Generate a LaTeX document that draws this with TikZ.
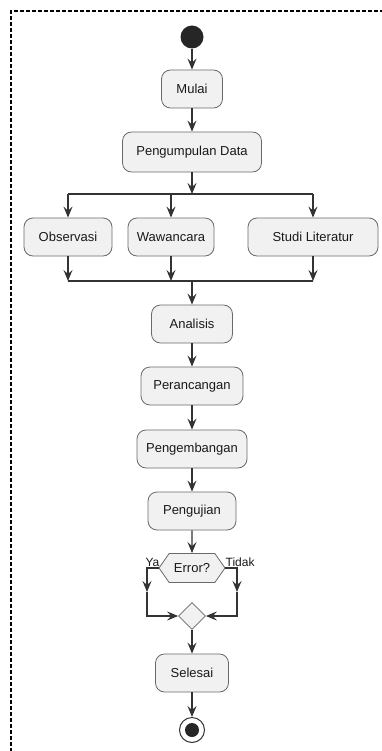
\documentclass[tikz,border=0pt]{standalone}
\usepackage{fontspec}
\setmainfont{Liberation Sans}
\usetikzlibrary{arrows.meta,shapes.geometric,shapes.symbols}
\definecolor{boxfill}{HTML}{F1F1F1}
\definecolor{boxline}{HTML}{6A6A6A}
\definecolor{arrline}{HTML}{333333}
\tikzset{
  act/.style={draw=boxline, fill=boxfill, rounded corners=9pt, line width=0.8pt,
    minimum height=38pt, inner sep=0pt, font=\fontsize{13}{15}\selectfont, text=black!90},
  arr/.style={draw=arrline, line width=1.3pt, -{Stealth[length=11pt,width=9pt,inset=4pt]}},
  ln/.style={draw=arrline, line width=1.3pt},
  lbl/.style={font=\fontsize{12}{14}\selectfont, inner sep=0pt, text=black!90}
}
\begin{document}
\begin{tikzpicture}[x=1pt,y=-1pt]
\useasboundingbox (0,0) rectangle (381,751);
\draw[black, line width=1.2pt, dash pattern=on 4pt off 2pt] (11,770) -- (11,11) -- (400,11);

\node[circle, fill=black!85, minimum size=23pt, inner sep=0pt] (start) at (192,37) {};
\node[act, minimum width=61pt] (mulai) at (192,89) {Mulai};
\node[act, minimum width=139pt, minimum height=40pt] (pd) at (192,152) {Pengumpulan Data};

\coordinate (fork) at (192,194);
\coordinate (fl) at (68,194);
\coordinate (fm) at (171,194);
\coordinate (fr) at (313,194);

\node[act, minimum width=88pt] (obs) at (68,237) {Observasi};
\node[act, minimum width=86pt] (waw) at (171,237) {Wawancara};
\node[act, minimum width=130pt] (stu) at (313,237) {Studi Literatur};

\coordinate (join) at (192,281);
\coordinate (jl) at (68,281);
\coordinate (jr) at (313,281);

\node[act, minimum width=81pt] (ana) at (192,324) {Analisis};
\node[act, minimum width=102pt] (per) at (192,386) {Perancangan};
\node[act, minimum width=110pt] (pen) at (192,449) {Pengembangan};
\node[act, minimum width=88pt] (uji) at (192,511) {Pengujian};

\node[signal, signal to=west and east, signal pointer angle=110, draw=boxline, fill=boxfill,
  line width=0.8pt, minimum height=29pt, minimum width=66pt, inner sep=0pt,
  font=\fontsize{13}{15}\selectfont, text=black!90] (err) at (192,568) {Error?};
\node[diamond, draw=boxline, fill=boxfill, line width=0.8pt, minimum size=27pt, inner sep=0pt] (mrg) at (192,616) {};
\node[act, minimum width=73pt] (sel) at (192,673) {Selesai};
\node[circle, draw=arrline, fill=white, line width=1pt, minimum size=25pt, inner sep=0pt] (end) at (192,730) {};
\node[circle, fill=black!85, minimum size=14pt, inner sep=0pt] (endin) at (192,730) {};

\coordinate (lb) at (147,592);
\coordinate (rb) at (237,592);

\draw[arr] (start) -- (mulai);
\draw[arr] (mulai) -- (pd);
\draw[arr] (pd) -- (fork);
\draw[ln] (fl) -- (fr);
\draw[arr] (fl) -- (obs);
\draw[arr] (fm) -- (waw);
\draw[arr] (fr) -- (stu);
\draw[arr] (obs) -- (jl);
\draw[arr] (waw.south) -- (waw.south |- join);
\draw[arr] (stu) -- (jr);
\draw[ln] (jl) -- (jr);
\draw[arr] (join) -- (ana);
\draw[arr] (ana) -- (per);
\draw[arr] (per) -- (pen);
\draw[arr] (pen) -- (uji);
\draw[arr] (uji) -- (err);
\draw[arr] (err.west) -| (lb);
\draw[arr] (lb) |- (mrg.west);
\draw[arr] (err.east) -| (rb);
\draw[arr] (rb) |- (mrg.east);
\draw[arr] (mrg) -- (sel);
\draw[arr] (sel) -- (end);

\node[lbl, anchor=south east] (ya) at ([xshift=1pt,yshift=1pt]err.west) {Ya};
\node[lbl, anchor=south west] (tidak) at ([xshift=0pt,yshift=1pt]err.east) {Tidak};
\end{tikzpicture}
\end{document}
